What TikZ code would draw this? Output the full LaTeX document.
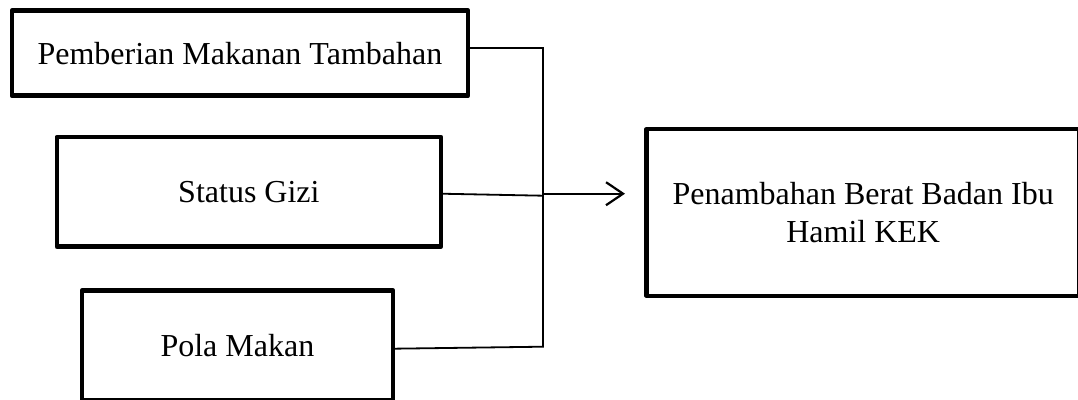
\documentclass[tikz,border=0pt]{standalone}
\usepackage{fontspec}
\setmainfont{Liberation Serif}
\usetikzlibrary{arrows.meta}
\begin{document}
\begin{tikzpicture}[x=1pt,y=-1pt,
  box/.style={draw=black,line width=4.5pt,line join=round,inner sep=0pt,outer sep=0pt,
    font=\fontsize{32}{38}\selectfont,align=center},
  conn/.style={draw=black,line width=1.8pt},
  arr/.style={draw=black,line width=2.2pt,-{Straight Barb[length=17pt,width=23pt,line width=2.2pt]}}]
\useasboundingbox (0,0) rectangle (1078,399);
\clip (0,0) rectangle (1078,399);
\node[box,minimum width=456.3pt,minimum height=85pt] (b1) at (239.9,53.2) {Pemberian Makanan Tambahan};
\node[box,minimum width=384.3pt,minimum height=109.5pt] (b2) at (248.9,191.8) {Status Gizi};
\node[box,minimum width=311.3pt,minimum height=110pt] (b3) at (237.4,345.5) {\raisebox{-2pt}{Pola Makan}};
\node[box,minimum width=433pt,minimum height=166.7pt] (b4) at (863.2,212.4) {Penambahan Berat Badan Ibu\\Hamil KEK};
\coordinate (jt) at (543,48);
\coordinate (jm) at (543,195.7);
\coordinate (jb) at (543,346.7);
\coordinate (js) at (543,193.7);
\coordinate (tip) at (625,193.7);
\draw[conn] ([yshift=5.2pt]b1.east) -- (jt) -- (jb) -- ([yshift=-3.2pt]b3.east);
\draw[conn] ([yshift=-1.9pt]b2.east) -- (jm);
\draw[arr] (js) -- (tip);
\end{tikzpicture}
\end{document}
